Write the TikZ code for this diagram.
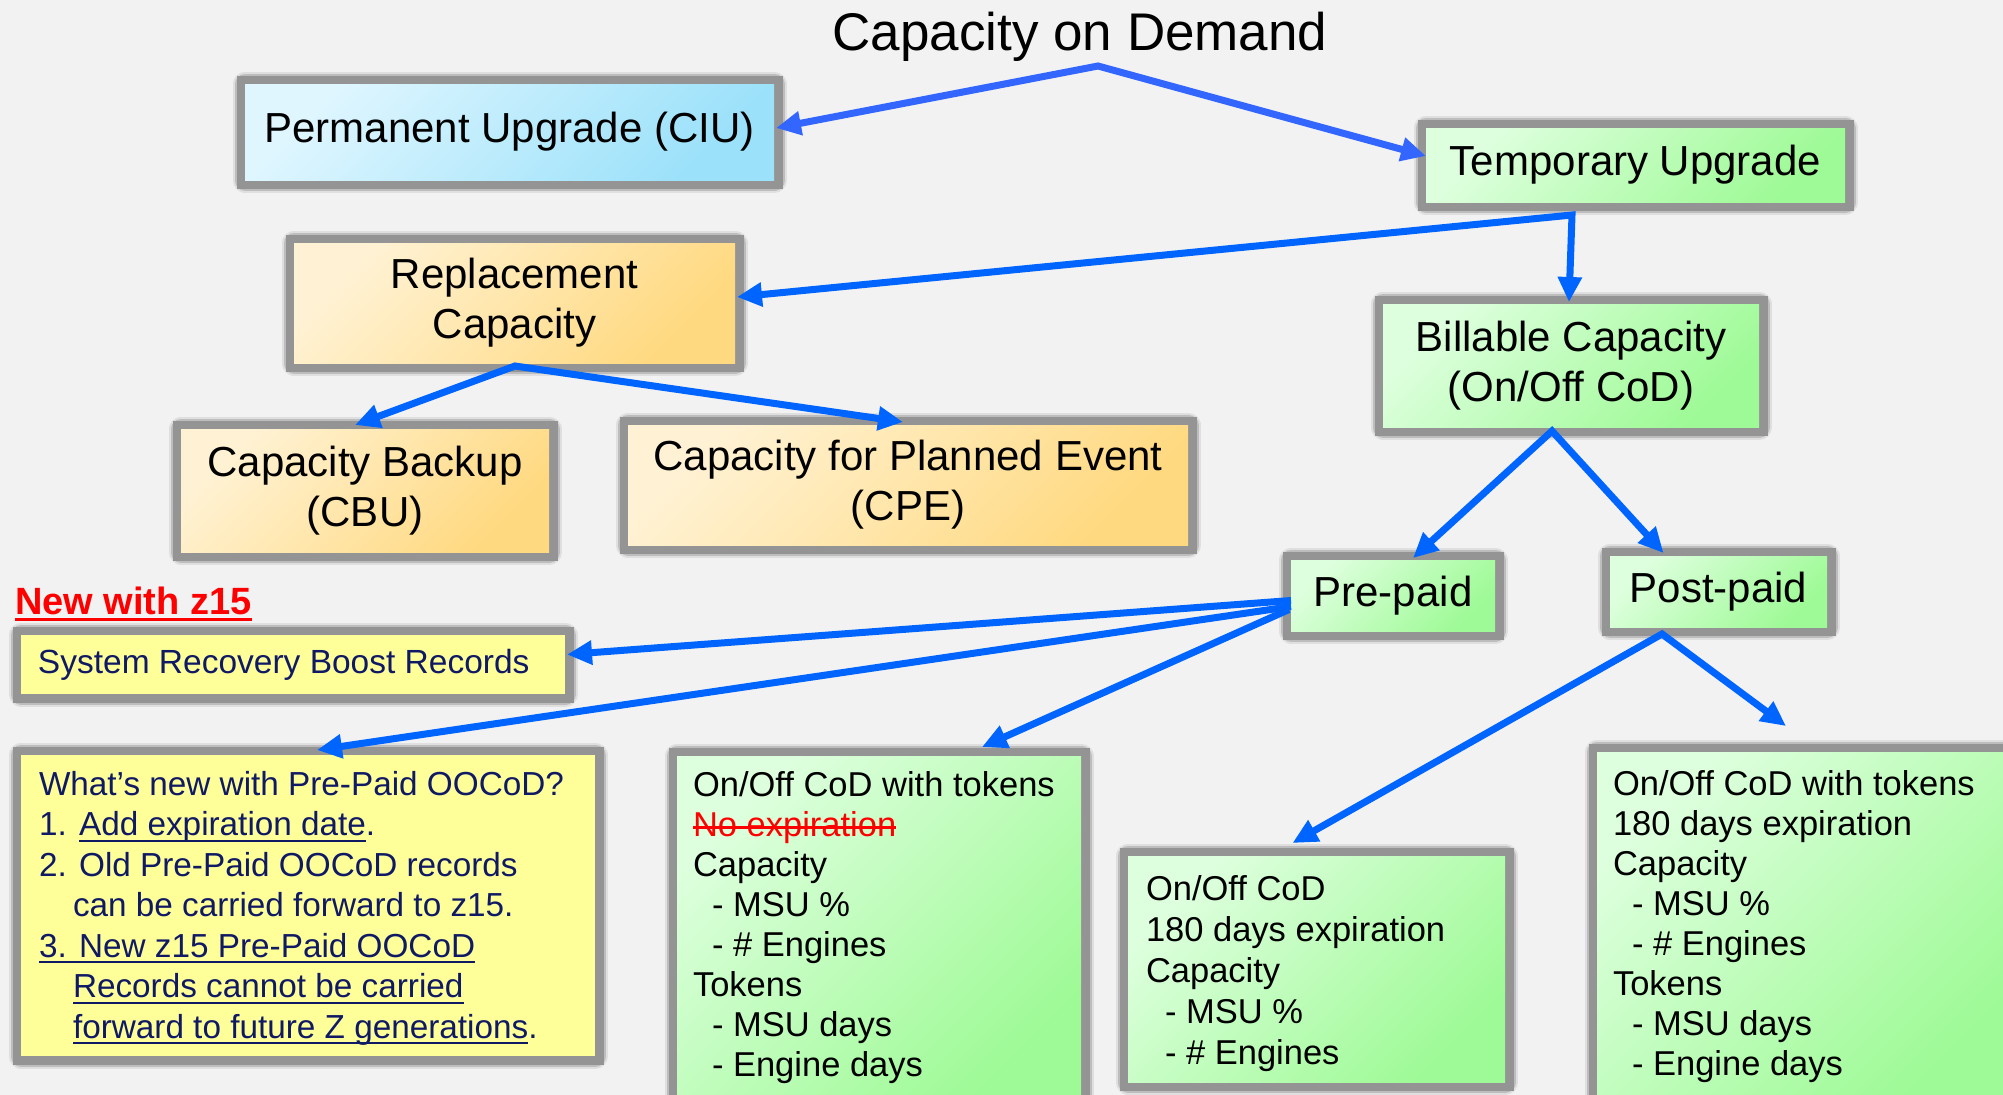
\documentclass[tikz,border=0pt]{standalone}
\usepackage{fontspec}
\setmainfont{Liberation Sans}
\usetikzlibrary{arrows.meta,calc}
\definecolor{bg}{RGB}{242,242,242}
\definecolor{shgray}{RGB}{148,148,148}
\definecolor{arrblue}{RGB}{0,100,255}
\definecolor{titleblue}{RGB}{51,102,255}
\definecolor{navy}{RGB}{15,25,100}
\definecolor{blueA}{RGB}{223,246,255}
\definecolor{blueB}{RGB}{155,225,250}
\definecolor{greenA}{RGB}{222,255,222}
\definecolor{greenB}{RGB}{158,250,150}
\definecolor{orangeA}{RGB}{255,242,212}
\definecolor{orangeB}{RGB}{255,217,128}
\definecolor{yel}{RGB}{255,255,153}
\newcommand{\textblock}[5]{\begin{minipage}[t][#2][t]{#1}\raggedright\setlength{\leftskip}{#4}\vspace*{#3}\strut #5\end{minipage}}
% #1 raise of rule bottom (negative = below baseline), #2 thickness, #3 text
\newcommand{\linethru}[3]{\leavevmode\setbox0=\hbox{#3}\rlap{\rule[#1]{\wd0}{#2}}\box0}
\newcommand{\ulthin}[1]{\linethru{-6pt}{2pt}{#1}}
\tikzset{
  shadowed/.style={inner sep=0pt, outer sep=0pt,
    preaction={draw=shgray, draw opacity=0.2, line width=25pt, line join=round},
    preaction={draw=shgray, draw opacity=0.45, line width=21pt, line join=round},
    preaction={draw=shgray, line width=17pt}},
  bluebox/.style={shadowed, top color=blueA, bottom color=blueB, shading angle=45},
  greenbox/.style={shadowed, top color=greenA, bottom color=greenB, shading angle=45},
  orangebox/.style={shadowed, top color=orangeA, bottom color=orangeB, shading angle=45},
  yelbox/.style={shadowed, fill=yel},
  bigtext/.style={font=\fontsize{42}{50}\selectfont, align=center},
  smalltext/.style={font=\fontsize{34.5}{40}\selectfont},
  arr/.style={draw=arrblue, line width=7pt, line join=miter, -{Triangle[length=25pt,width=23pt]}},
  arrboth/.style={arr, {Triangle[length=25pt,width=23pt]}-{Triangle[length=25pt,width=23pt]}},
}
\begin{document}
\begin{tikzpicture}[x=1pt,y=-1pt]
\useasboundingbox (0,0) rectangle (2003,1095);
\clip (0,0) rectangle (2003,1095);
\fill[bg] (0,0) rectangle (2003,1095);

\node[anchor=base, inner sep=0pt, font=\fontsize{53}{60}\selectfont] (title) at (1080,50) {Capacity on Demand};

\node[bluebox, bigtext, anchor=north west, minimum width=529pt, minimum height=96pt] (perm) at (245,84) {Permanent Upgrade (CIU)};
\node[greenbox, bigtext, anchor=north west, minimum width=419pt, minimum height=74pt] (temp) at (1426,128) {Temporary Upgrade};
\node[orangebox, bigtext, anchor=north west, minimum width=441pt, minimum height=120pt] (repl) at (294,243) {Replacement\\Capacity};
\node[greenbox, bigtext, anchor=north west, minimum width=376pt, minimum height=123pt] (bill) at (1383,304) {Billable Capacity\\(On/Off CoD)};
\node[orangebox, bigtext, anchor=north west, minimum width=368pt, minimum height=123pt] (cbu) at (181,429) {Capacity Backup\\(CBU)};
\node[orangebox, bigtext, anchor=north west, minimum width=560pt, minimum height=120pt] (cpe) at (628,425) {Capacity for Planned Event\\(CPE)};
\node[greenbox, bigtext, anchor=north west, minimum width=204pt, minimum height=71pt] (pre) at (1291,560) {Pre-paid};
\node[greenbox, bigtext, anchor=north west, minimum width=217pt, minimum height=71pt] (post) at (1610,556) {Post-paid};

\node[anchor=base west, inner sep=0pt, text=red, font=\fontsize{38}{44}\selectfont\bfseries] (newz) at (15,614) {\linethru{-7pt}{3pt}{New with z15}};

\node[yelbox, anchor=north west, minimum width=544pt, minimum height=59pt, text=navy, font=\fontsize{33.5}{40}\selectfont] (srb) at (21,635) {\makebox[544pt][l]{\hspace*{17pt}System Recovery Boost Records}};

\node[yelbox, anchor=north west, text=navy, font=\fontsize{33.3}{40.5}\selectfont] (new) at (21,755) {\textblock{574pt}{301pt}{12pt}{18pt}{%
What’s new with Pre-Paid OOCoD?\\
1. \ulthin{Add expiration date}.\\
2. Old Pre-Paid OOCoD records\\
\hspace*{34pt}can be carried forward to z15.\\
\ulthin{3. New z15 Pre-Paid OOCoD}\\
\hspace*{34pt}\ulthin{Records cannot be carried}\\
\hspace*{34pt}\ulthin{forward to future Z generations}.}};

\node[greenbox, smalltext, anchor=north west] (tok1) at (677,756) {\textblock{404pt}{345pt}{12pt}{16pt}{%
On/Off CoD with tokens\\
{\color{red}\linethru{7.5pt}{2.5pt}{No expiration}}\\
Capacity\\
\hspace*{19pt}- MSU \%\\
\hspace*{19pt}- \# Engines\\
Tokens\\
\hspace*{19pt}- MSU days\\
\hspace*{19pt}- Engine days}};

\node[greenbox, font=\fontsize{34.5}{41}\selectfont, anchor=north west] (mid) at (1128,856) {\textblock{377pt}{226pt}{16pt}{18pt}{%
On/Off CoD\\
180 days expiration\\
Capacity\\
\hspace*{19pt}- MSU \%\\
\hspace*{19pt}- \# Engines}};

\node[greenbox, smalltext, anchor=north west] (tok2) at (1597,752) {\textblock{416pt}{350pt}{15pt}{16pt}{%
On/Off CoD with tokens\\
180 days expiration\\
Capacity\\
\hspace*{19pt}- MSU \%\\
\hspace*{19pt}- \# Engines\\
Tokens\\
\hspace*{19pt}- MSU days\\
\hspace*{19pt}- Engine days}};

% connectors
\coordinate (j0) at (1098,66);
\draw[arrboth, draw=titleblue] ($(perm.east)+(2,-4)$) -- (j0) -- ($(temp.west)+(0,-9)$);
\coordinate (j1) at (1572,215);
\draw[arrboth] ($(repl.east)+(2,-6)$) -- (j1) -- ($(bill.north)+(-2,-2)$);
\coordinate (j2) at (515,366);
\draw[arrboth] ($(cbu.north)+(-10,-4)$) -- (j2) -- ($(cpe.north)+(-5,-3)$);
\coordinate (j3) at (1552,431);
\draw[arrboth] ($(pre.north)+(20,-2)$) -- (j3) -- ($(post.north)+(-55,-3)$);
\coordinate (j4) at (1662,634);
\coordinate (pend) at (1786,726);
\draw[arrboth] ($(mid.north)+(-24,-13)$) -- (j4) -- (pend);
\draw[arr] ($(pre.west)+(0,5)$) -- ($(srb.east)+(2,-10)$);
\draw[arr] ($(pre.west)+(0,11)$) -- ($(new.north)+(9,-5)$);
\draw[arr] ($(pre.west)+(-2,14)$) -- ($(tok1.north)+(103,-9)$);
\end{tikzpicture}
\end{document}
